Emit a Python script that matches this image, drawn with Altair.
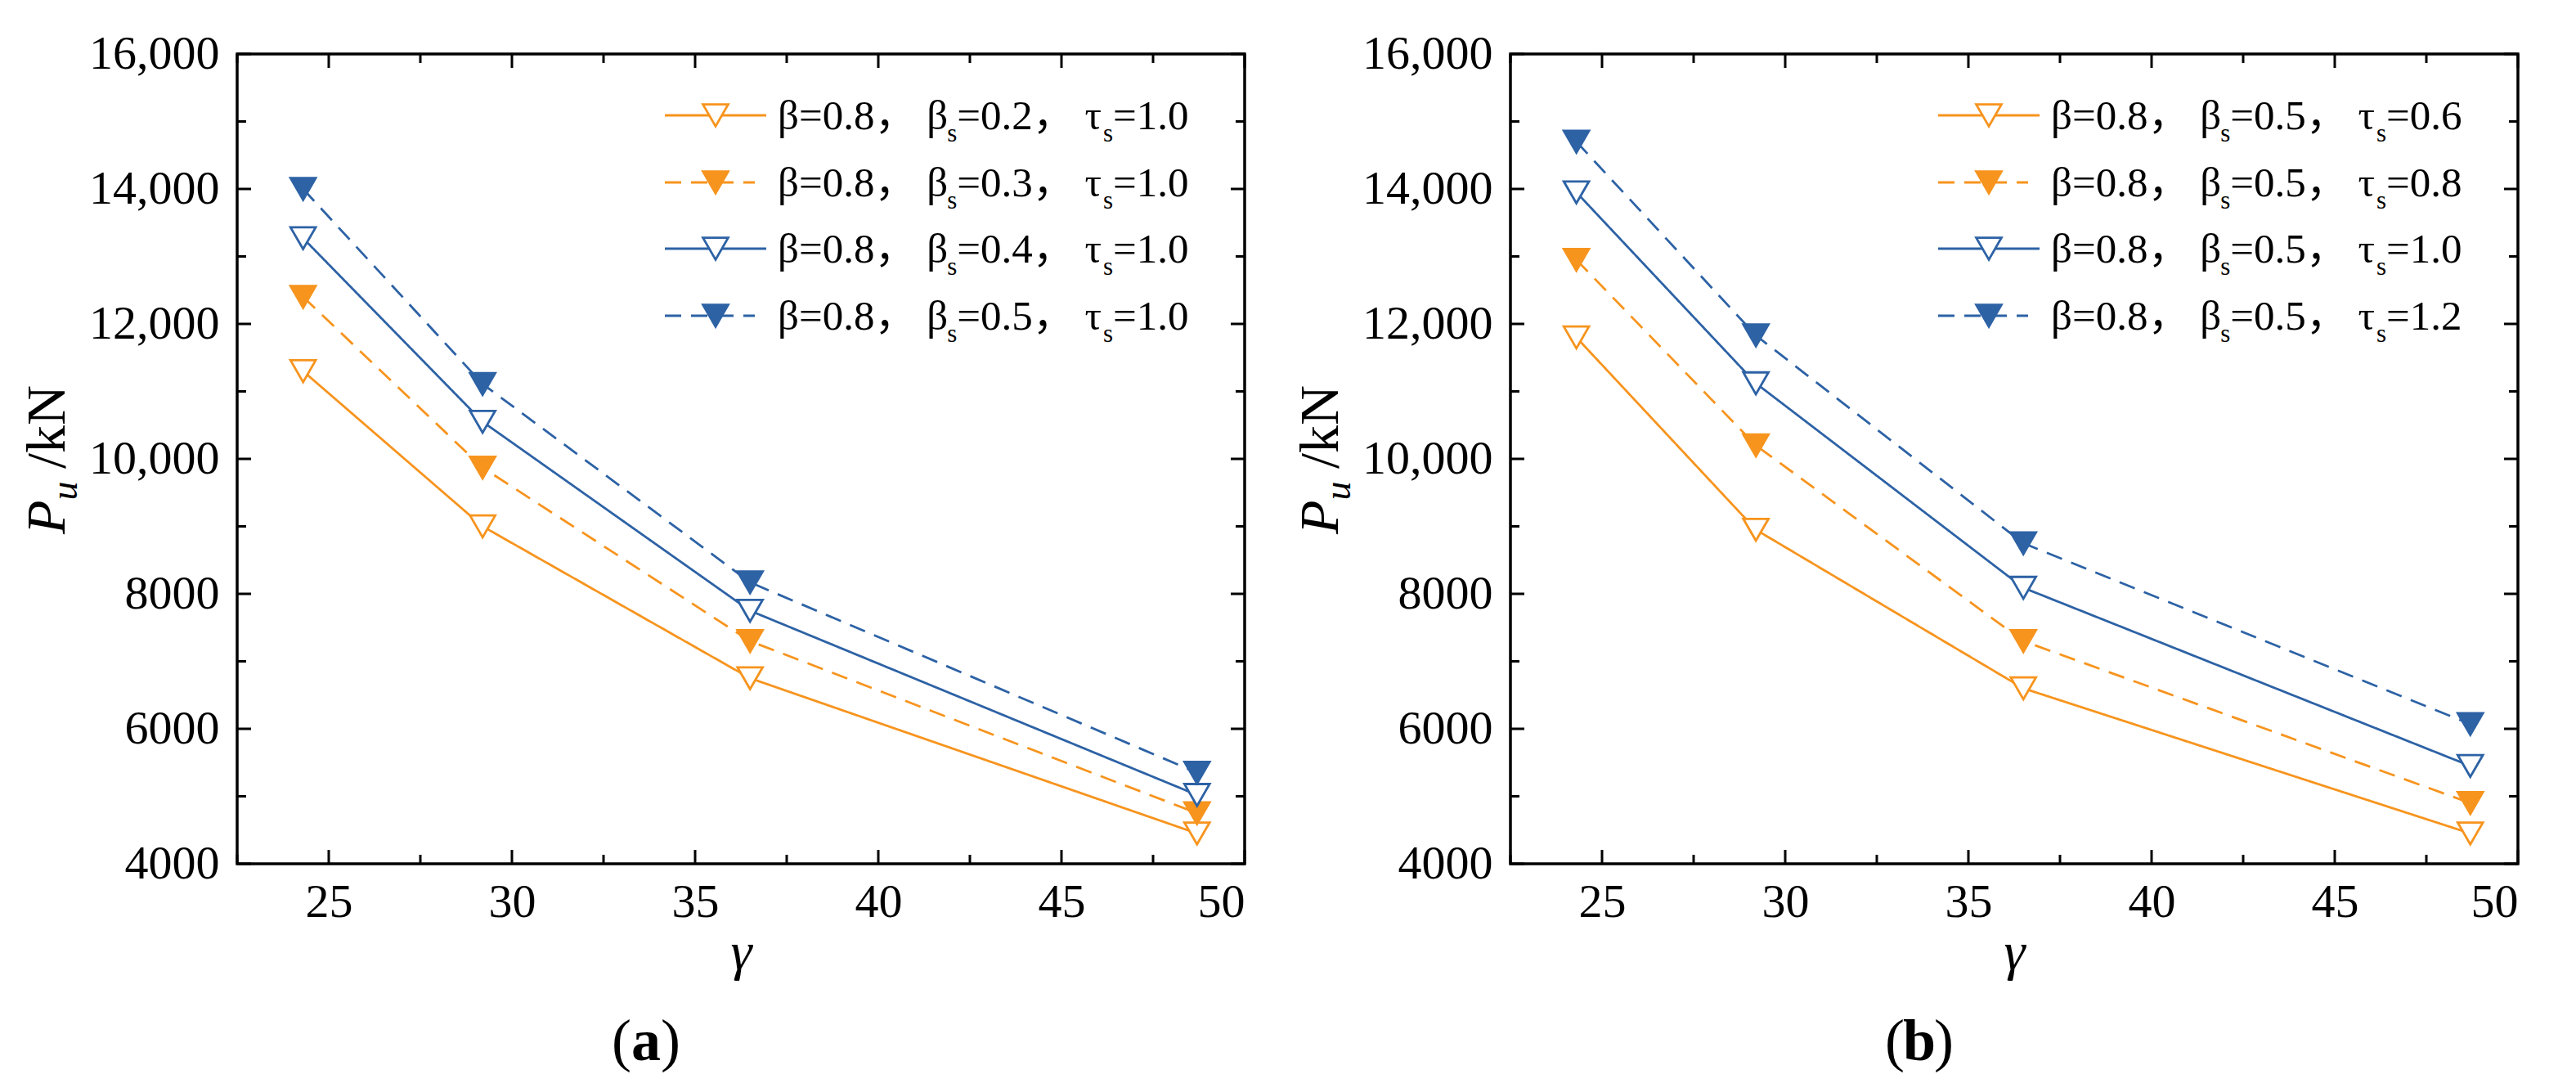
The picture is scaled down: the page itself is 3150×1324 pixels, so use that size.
import altair as alt
import pandas as pd

FONT = "Liberation Serif, Noto Sans CJK SC, serif"
ORANGE = "#F7941E"
BLUE = "#2D62A5"

# gamma values shared by every series
gamma = [24.3, 29.2, 36.5, 48.7]

# panel (a): beta = 0.8, tau_s = 1.0, beta_s varies
a_beta_s = ["0.2", "0.3", "0.4", "0.5"]
a_tau_s = ["1.0", "1.0", "1.0", "1.0"]
a_pu_02 = [11300, 9000, 6750, 4450]
a_pu_03 = [12400, 9870, 7300, 4750]
a_pu_04 = [13270, 10550, 7750, 5020]
a_pu_05 = [14000, 11110, 8170, 5350]

# panel (b): beta = 0.8, beta_s = 0.5, tau_s varies
b_beta_s = ["0.5", "0.5", "0.5", "0.5"]
b_tau_s = ["0.6", "0.8", "1.0", "1.2"]
b_pu_06 = [11800, 8950, 6600, 4450]
b_pu_08 = [12950, 10200, 7300, 4900]
b_pu_10 = [13950, 11120, 8090, 5450]
b_pu_12 = [14700, 11830, 8750, 6070]

x_major = [25, 30, 35, 40, 45, 50]
x_minor = [22.5, 27.5, 32.5, 37.5, 42.5, 47.5]
y_major = [4000, 6000, 8000, 10000, 12000, 14000, 16000]
y_minor = [5000, 7000, 9000, 11000, 13000, 15000]

series = [0, 1, 2, 3]
series_color = [ORANGE, ORANGE, BLUE, BLUE]
series_fill = ["white", ORANGE, "white", BLUE]
series_dash = [[1, 0], [20, 12], [1, 0], [20, 12]]
legend_dash = [[1, 0], [20, 25], [1, 0], [20, 25]]

W, H = 1232, 990
X0, X1 = 22.5, 50
Y0, Y1 = 4000, 16000

xs = alt.Scale(domain=[X0, X1], nice=False, zero=False)
ys = alt.Scale(domain=[Y0, Y1], nice=False, zero=False)
x_axis = alt.Axis(values=x_major, format="d", title="γ", labelPadding=18,
                  titlePadding=0, titleFont=FONT, titleFontSize=66,
                  titleFontStyle="italic", titleFontWeight="normal")
y_axis = alt.Axis(values=y_major, title=None, labelPadding=22,
                  labelExpr="datum.value >= 10000 ? format(datum.value, ',') : format(datum.value, 'd')")

color_s = alt.Scale(domain=series, range=series_color)
fill_s = alt.Scale(domain=series, range=series_fill)

CHAR_W = {"β": 0.5, "τ": 0.44, "=": 0.564, ".": 0.25, "，": 1.0, " ": 0.25, "s": 0.389}
MARK_SIZE = 950


def text_w(s, fs):
    return sum(CHAR_W.get(c, 0.5) for c in s) * fs


def px_x(p):
    return X0 + p / W * (X1 - X0)


def px_y(p):
    return Y1 - p / H * (Y1 - Y0)


def X(field):
    return alt.X(f"{field}:Q", scale=xs, axis=x_axis)


def Y(field):
    return alt.Y(f"{field}:Q", scale=ys, axis=y_axis)


def one(**kw):
    return alt.Chart(pd.DataFrame([kw]))


def panel(values, beta_s, tau_s, tag):
    rows = []
    for i, vals in zip(series, values):
        for g, v in zip(gamma, vals):
            rows.append({"gamma": g, "pu": v, "s": i})
    df = pd.DataFrame(rows)

    lines = alt.Chart(df).mark_line(strokeWidth=2.8).encode(
        x=X("gamma"), y=Y("pu"), detail="s:N",
        color=alt.Color("s:N", scale=color_s, legend=None),
        strokeDash=alt.StrokeDash("s:N", scale=alt.Scale(domain=series, range=series_dash), legend=None),
    )
    points = alt.Chart(df).mark_point(shape="triangle-down", size=MARK_SIZE, filled=True,
                                      strokeWidth=2.8, opacity=1).encode(
        x=X("gamma"), y=Y("pu"),
        fill=alt.Fill("s:N", scale=fill_s, legend=None),
        stroke=alt.Stroke("s:N", scale=color_s, legend=None),
    )

    # inward ticks on all four sides
    layers = [lines, points]
    for vals, ln in ((x_major, 17), (x_minor, 11)):
        d = pd.DataFrame({"gamma": vals})
        layers.append(alt.Chart(d).mark_rule(color="black", strokeWidth=3).encode(
            x=X("gamma"), y=alt.value(H), y2=alt.value(H - ln)))
        layers.append(alt.Chart(d).mark_rule(color="black", strokeWidth=3).encode(
            x=X("gamma"), y=alt.value(0), y2=alt.value(ln)))
    for vals, ln in ((y_major, 17), (y_minor, 11)):
        d = pd.DataFrame({"pu": vals})
        layers.append(alt.Chart(d).mark_rule(color="black", strokeWidth=3).encode(
            y=Y("pu"), x=alt.value(0), x2=alt.value(ln)))
        layers.append(alt.Chart(d).mark_rule(color="black", strokeWidth=3).encode(
            y=Y("pu"), x=alt.value(W), x2=alt.value(W - ln)))

    # legend
    row_y = [75, 157, 238, 320]
    leg = pd.DataFrame({
        "s": series,
        "x1": [px_x(523)] * 4,
        "x2": [px_x(647), px_x(633), px_x(647), px_x(633)],
        "xm": [px_x(585)] * 4,
        "y": [px_y(r) for r in row_y],
    })
    layers.append(alt.Chart(leg).mark_rule(strokeWidth=2.8).encode(
        x=X("x1"), x2="x2", y=Y("y"),
        color=alt.Color("s:N", scale=color_s, legend=None),
        strokeDash=alt.StrokeDash("s:N", scale=alt.Scale(domain=series, range=legend_dash), legend=None),
    ))
    layers.append(alt.Chart(leg).mark_point(shape="triangle-down", size=MARK_SIZE, filled=True,
                                            strokeWidth=2.8, opacity=1).encode(
        x=X("xm"), y=Y("y"),
        fill=alt.Fill("s:N", scale=fill_s, legend=None),
        stroke=alt.Stroke("s:N", scale=color_s, legend=None),
    ))

    fs, fsub = 51, 31
    segs = []
    for r, bs, ts in zip(row_y, beta_s, tau_s):
        parts = [("β=0.8， β", 0), ("s", 1), (f"={bs}， τ", 0), ("s", 1), (f"={ts}", 0)]
        x = 661
        base = r + 17
        for t, sub in parts:
            f = fsub if sub else fs
            segs.append({"t": t, "x": px_x(x), "y": px_y(base + (15 if sub else 0)), "fs": f})
            x += text_w(t, f)
    layers.append(alt.Chart(pd.DataFrame(segs)).mark_text(
        align="left", baseline="alphabetic", font=FONT, color="black").encode(
        x=X("x"), y=Y("y"), text="t:N", size=alt.Size("fs:Q", scale=None, legend=None)))

    # y-axis title  P_u /kN
    y_start = H / 2 + 92
    layers.append(one(t="P").mark_text(angle=270, align="left", baseline="alphabetic", font=FONT,
                                       fontSize=68, fontStyle="italic", color="black").encode(
        text="t:N", x=alt.value(-211), y=alt.value(y_start)))
    layers.append(one(t="u").mark_text(angle=270, align="left", baseline="alphabetic", font=FONT,
                                       fontSize=46, fontStyle="italic", color="black").encode(
        text="t:N", x=alt.value(-196), y=alt.value(y_start - 41.5)))
    layers.append(one(t="/kN").mark_text(angle=270, align="left", baseline="alphabetic", font=FONT,
                                         fontSize=68, color="black").encode(
        text="t:N", x=alt.value(-211), y=alt.value(y_start - 80)))

    # panel tag (a) / (b)
    cx, cy = 500, 1208
    layers.append(one(t="(").mark_text(align="right", baseline="middle", font=FONT, fontSize=72,
                                       color="black").encode(text="t:N", x=alt.value(cx - 18), y=alt.value(cy)))
    layers.append(one(t=tag).mark_text(align="center", baseline="middle", font=FONT, fontSize=72,
                                       fontWeight="bold", color="black").encode(text="t:N", x=alt.value(cx), y=alt.value(cy)))
    layers.append(one(t=")").mark_text(align="left", baseline="middle", font=FONT, fontSize=72,
                                       color="black").encode(text="t:N", x=alt.value(cx + 18), y=alt.value(cy)))

    return alt.layer(*layers).properties(width=W, height=H)


chart_a = panel([a_pu_02, a_pu_03, a_pu_04, a_pu_05], a_beta_s, a_tau_s, "a")
chart_b = panel([b_pu_06, b_pu_08, b_pu_10, b_pu_12], b_beta_s, b_tau_s, "b")

chart = alt.hconcat(chart_a, chart_b, spacing=54).properties(
    padding={"left": 15, "top": 27, "right": 10, "bottom": 10}
).configure_axis(
    labelFont=FONT, labelFontSize=58, labelColor="black", titleColor="black",
    ticks=False, domain=False, grid=False,
).configure_view(stroke="black", strokeWidth=3.5)

chart.save("out.html", embed_options={"renderer": "svg", "actions": False})
